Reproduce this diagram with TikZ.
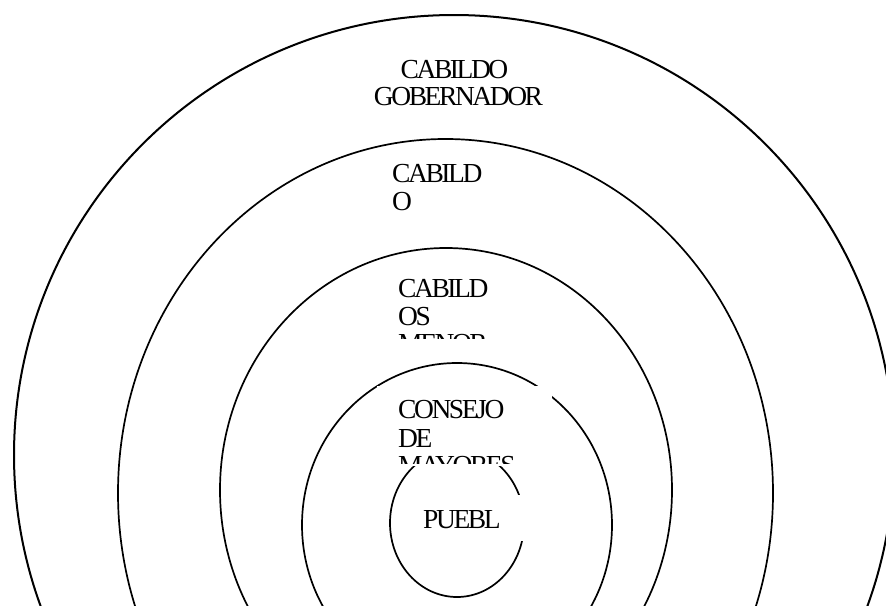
\documentclass[tikz,border=0pt]{standalone}
\usepackage{fontspec}
\setmainfont{Liberation Serif}
\newfontfamily\lblfont[LetterSpace=-8.8]{Liberation Serif}
\begin{document}
\begin{tikzpicture}[x=1pt,y=-1pt,
  ring/.style={line width=1.7pt, draw=black},
  lbl/.style={font=\lblfont\fontsize{27.5}{28}\selectfont, inner sep=0pt, anchor=base west, text=black},
  lblc/.style={lbl, anchor=base},
  mask/.style={fill=white, draw=none}]
\fill[white] (0,0) rectangle (886,605);
\useasboundingbox (0,0) rectangle (886,605);
\begin{scope}
  \clip (0,0) rectangle (886,605);
  \draw[ring, line width=2pt] (454,455) ellipse [x radius=440, y radius=440];
  \draw[ring] (445.5,493) ellipse [x radius=327.5, y radius=354];
  \draw[ring] (446,490) ellipse [x radius=226, y radius=242];
  \draw[ring] (457,525) ellipse [x radius=155, y radius=162];
  \draw[ring] (457,523) ellipse [x radius=67, y radius=74];
  % white text boxes hiding parts of the rings
  \fill[mask] (377,386) rectangle (552,466);
  \fill[mask] (400,495) rectangle (526,541);
\end{scope}
% CABILDO GOBERNADOR
\node[lblc] (gobA) at (454.5,78) {CABILDO};
\node[lblc] (gobB) at (458.5,105) {GOBERNADOR};
% CABILDO
\node[lbl] (cabA) at (392,182) {CABILD};
\node[lbl] (cabB) at (392,210) {O};
% CABILDOS MENORES
\node[lbl] (menA) at (398,297) {CABILD};
\node[lbl] (menB) at (398,325) {OS};
\begin{scope}
  \clip (380,300) rectangle (520,338);
  \node[lbl] (menC) at (398,352) {MENOR};
\end{scope}
% CONSEJO DE MAYORES
\node[lbl] (conA) at (398,418) {CONSEJO};
\node[lbl] (conB) at (398,447) {DE};
\begin{scope}
  \clip (377,386) rectangle (552,463);
  \node[lbl] (conC) at (398,474) {MAYORES};
\end{scope}
% PUEBLO
\node[lbl] (pue) at (423,528) {PUEBL};
\end{tikzpicture}
\end{document}
